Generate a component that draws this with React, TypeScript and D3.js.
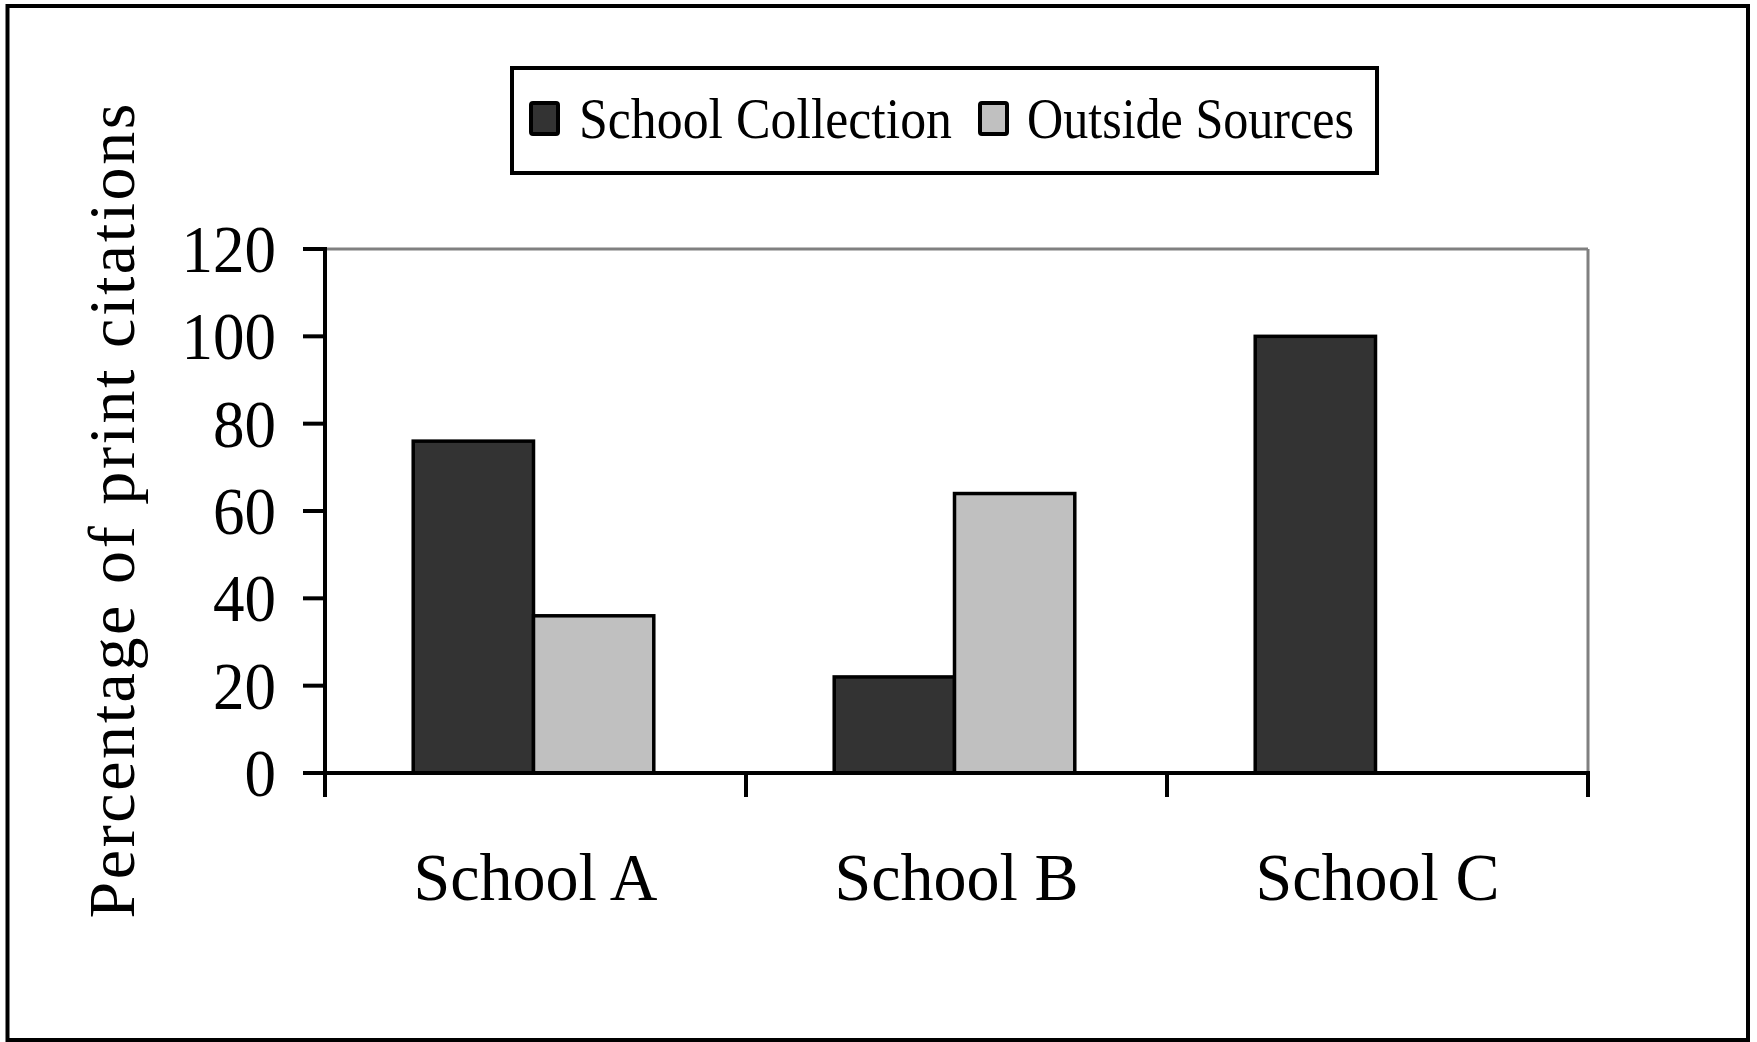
import React from 'react';
import * as d3 from 'd3';

const schools = ['School A', 'School B', 'School C'];
const seriesNames = ['School Collection', 'Outside Sources'];
const schoolCollection = [76, 22, 100];
const outsideSources = [36, 64, 0];
const yTicks = [0, 20, 40, 60, 80, 100, 120];

const seriesColors = ['#333333', '#c0c0c0'];
const serif = '"Liberation Serif", "Times New Roman", serif';

const W = 1757, H = 1042;
const plot = { left: 325, right: 1588, top: 249, bottom: 773 };

const App: React.FC = () => {
  const values = [schoolCollection, outsideSources];

  const x0 = d3.scaleBand<string>()
    .domain(schools)
    .range([plot.left, plot.right])
    .paddingInner(0)
    .paddingOuter(0);

  // excel style 75% gap width
  const x1 = d3.scaleBand<string>()
    .domain(seriesNames)
    .range([-2, x0.bandwidth() - 2])
    .paddingInner(0)
    .paddingOuter(0.75);

  const y = d3.scaleLinear().domain([0, 120]).range([plot.bottom, plot.top]);

  // category boundaries for the x tick marks
  const boundaries = [...schools.map(s => x0(s) as number), plot.right];

  const legendLabels = [
    { name: seriesNames[0], sx: 529, tx: 579, len: 373 },
    { name: seriesNames[1], sx: 978, tx: 1027, len: 327 },
  ];

  return (
    <div style={{ position: 'absolute', left: 0, top: 0 }}>
      <svg width={W} height={H} style={{ display: 'block', background: '#fff' }}>
        {/* outer frame */}
        <rect x={7.5} y={6} width={1740.5} height={1034} fill="none" stroke="#000" strokeWidth={4} />

        {/* legend */}
        <rect x={512} y={68} width={865} height={105} fill="#fff" stroke="#000" strokeWidth={4} />
        {legendLabels.map((l, i) => (
          <g key={l.name}>
            <rect x={l.sx + 2} y={103} width={27} height={31} rx={2}
              fill={seriesColors[i]} stroke="#000" strokeWidth={4} />
            <text x={l.tx} y={138} fontFamily={serif} fontSize={58}
              textLength={l.len} lengthAdjust="spacingAndGlyphs">{l.name}</text>
          </g>
        ))}

        {/* plot frame: top and right in grey */}
        <line x1={plot.left} x2={plot.right} y1={plot.top} y2={plot.top} stroke="#808080" strokeWidth={3} />
        <line x1={plot.right} x2={plot.right} y1={plot.top} y2={plot.bottom} stroke="#808080" strokeWidth={3} />

        {/* bars */}
        {schools.map((s, ci) => (
          <g key={s} transform={`translate(${x0(s)},0)`}>
            {seriesNames.map((n, si) => {
              const v = values[si][ci];
              if (v <= 0) return null;
              return (
                <rect key={n}
                  x={x1(n)}
                  y={y(v)}
                  width={x1.bandwidth()}
                  height={y(0) - y(v)}
                  fill={seriesColors[si]}
                  stroke="#000"
                  strokeWidth={3.5} />
              );
            })}
          </g>
        ))}

        {/* y axis */}
        <line x1={plot.left} x2={plot.left} y1={plot.top - 2} y2={plot.bottom + 24} stroke="#000" strokeWidth={4} />
        {yTicks.map(t => (
          <g key={t}>
            <line x1={303} x2={plot.left} y1={y(t)} y2={y(t)} stroke="#000" strokeWidth={4} />
            <text x={276} y={y(t)} dy="0.34em" textAnchor="end" fontFamily={serif} fontSize={68}
              textLength={String(t).length * 31.5} lengthAdjust="spacingAndGlyphs">{t}</text>
          </g>
        ))}

        {/* x axis */}
        <line x1={plot.left} x2={plot.right + 2} y1={plot.bottom} y2={plot.bottom} stroke="#000" strokeWidth={4} />
        {boundaries.map((b, i) => (
          <line key={i} x1={b} x2={b} y1={plot.bottom} y2={plot.bottom + 24} stroke="#000" strokeWidth={4} />
        ))}
        {schools.map(s => (
          <text key={s} x={(x0(s) as number) + x0.bandwidth() / 2} y={900}
            textAnchor="middle" fontFamily={serif} fontSize={68}
            textLength={244} lengthAdjust="spacingAndGlyphs">{s}</text>
        ))}

        {/* y axis title */}
        <text transform={`translate(134, 511) rotate(-90)`} textAnchor="middle"
          fontFamily={serif} fontSize={66} textLength={815} lengthAdjust="spacing">
          Percentage of print citations
        </text>
      </svg>
    </div>
  );
};

export default App;
